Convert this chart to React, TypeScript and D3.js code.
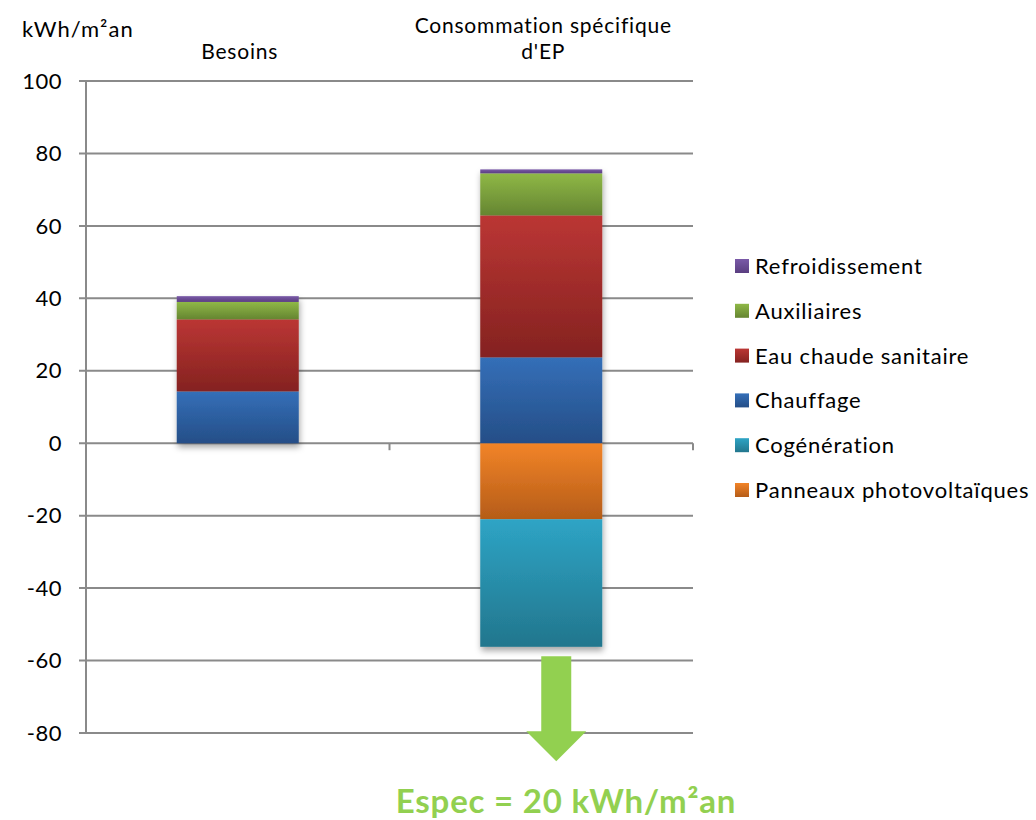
import * as d3 from 'd3';

const categories = ['Besoins', "Consommation spécifique d'EP"];
const categoryLines = [['Besoins'], ['Consommation spécifique', "d'EP"]];

// stack order: negatives first (nearest zero first), then positives bottom -> top
const seriesNames = [
  'Panneaux photovoltaïques',
  'Cogénération',
  'Chauffage',
  'Eau chaude sanitaire',
  'Auxiliaires',
  'Refroidissement',
];
const panneaux = [0, -21.0];
const cogeneration = [0, -35.2];
const chauffage = [14.3, 23.7];
const eauChaude = [19.9, 39.2];
const auxiliaires = [4.8, 11.6];
const refroidissement = [1.6, 1.1];

const legendOrder = [
  'Refroidissement',
  'Auxiliaires',
  'Eau chaude sanitaire',
  'Chauffage',
  'Cogénération',
  'Panneaux photovoltaïques',
];

const yTicks = [-80, -60, -40, -20, 0, 20, 40, 60, 80, 100];

// top/bottom gradient colours per series
const colors: Record<string, [string, string]> = {
  'Panneaux photovoltaïques': ['#f28428', '#b55c18'],
  'Cogénération': ['#2ea4c5', '#22768d'],
  'Chauffage': ['#346fb8', '#254e87'],
  'Eau chaude sanitaire': ['#bb3634', '#842220'],
  'Auxiliaires': ['#8fb847', '#658531'],
  'Refroidissement': ['#7a5aa8', '#5a3e80'],
};

// annotation arrow (values in kWh/m²an)
const arrowTop = -58.8;
const arrowHeadStart = -79.5;
const arrowTip = -87.8;
const especLabel = 'Espec = 20 kWh/m²an';

const FONT = 'Lato, "DejaVu Sans", sans-serif';
const GRID = '#8a8a8a';

export default function App() {
  const width = 1036;
  const height = 820;
  const left = 86;
  const right = 693;

  const table = categories.map((c, i) => ({
    category: c,
    'Panneaux photovoltaïques': panneaux[i],
    'Cogénération': cogeneration[i],
    'Chauffage': chauffage[i],
    'Eau chaude sanitaire': eauChaude[i],
    'Auxiliaires': auxiliaires[i],
    'Refroidissement': refroidissement[i],
  }));

  const stacked = d3
    .stack<any>()
    .keys(seriesNames)
    .offset(d3.stackOffsetDiverging)(table);

  const x = d3.scaleBand<string>().domain(categories).range([left, right]).padding(0);
  const y = d3.scaleLinear().domain([-80, 100]).range([733, 81]);
  const barW = x.bandwidth() * 0.402;

  const arrowX = (x(categories[1]) || 0) + x.bandwidth() / 2 + 15;

  return (
    <svg
      width={width}
      height={height}
      style={{ position: 'absolute', left: 0, top: 0, background: '#fff' }}
    >
      <defs>
        {seriesNames.map((s, i) => (
          <linearGradient key={s} id={`g${i}`} x1="0" y1="0" x2="0" y2="1">
            <stop offset="0%" stopColor={colors[s][0]} />
            <stop offset="100%" stopColor={colors[s][1]} />
          </linearGradient>
        ))}
        <filter id="shadow" x="-20%" y="-20%" width="140%" height="140%">
          <feDropShadow dx="1" dy="4" stdDeviation="3" floodColor="#000" floodOpacity="0.35" />
        </filter>
      </defs>

      {/* grid */}
      {yTicks.map((t) => (
        <g key={t}>
          <line x1={left - 7} x2={right} y1={y(t)} y2={y(t)} stroke={GRID} strokeWidth={2} />
          <text
            x={62}
            y={y(t)}
            dy="0.35em"
            textAnchor="end"
            fontFamily={FONT}
            fontSize={22}
            letterSpacing={0.5}
            fill="#000"
          >
            {t}
          </text>
        </g>
      ))}
      <line x1={left} x2={left} y1={y(100)} y2={y(-80)} stroke={GRID} strokeWidth={2} />
      {/* category ticks on zero line */}
      {[left, left + x.step(), right].map((tx, i) => (
        <line key={i} x1={tx} x2={tx} y1={y(0)} y2={y(0) + 7} stroke={GRID} strokeWidth={2} />
      ))}

      {/* bars */}
      {categories.map((c, ci) => (
        <g key={c} filter="url(#shadow)">
          {stacked.map((layer, si) => {
            const d = layer[ci];
            const y0 = y(Math.max(d[0], d[1]));
            const y1 = y(Math.min(d[0], d[1]));
            if (y1 - y0 < 0.01) return null;
            return (
              <rect
                key={layer.key}
                x={(x(c) || 0) + (x.bandwidth() - barW) / 2}
                y={y0}
                width={barW}
                height={y1 - y0}
                fill={`url(#g${si})`}
              />
            );
          })}
        </g>
      ))}

      {/* category labels on top */}
      {categories.map((c, ci) => {
        const lines = categoryLines[ci];
        const cx = (x(c) || 0) + x.bandwidth() / 2 + 2;
        return (
          <text
            key={c}
            x={cx}
            textAnchor="middle"
            fontFamily={FONT}
            fontSize={21}
            letterSpacing={0.8}
            fill="#000"
          >
            {lines.map((l, li) => (
              <tspan key={li} x={cx} y={59 - (lines.length - 1 - li) * 26}>
                {l}
              </tspan>
            ))}
          </text>
        );
      })}
      <text x={22} y={37} fontFamily={FONT} fontSize={22} letterSpacing={1} fill="#000">
        kWh/m²an
      </text>

      {/* legend */}
      {legendOrder.map((s, i) => {
        const cy = 266 + i * 44.8;
        const si = seriesNames.indexOf(s);
        return (
          <g key={s}>
            <rect x={735} y={cy - 7} width={14} height={14} fill={`url(#g${si})`} />
            <text
              x={755}
              y={cy}
              dy="0.36em"
              fontFamily={FONT}
              fontSize={22}
              letterSpacing={0.8}
              fill="#000"
            >
              {s}
            </text>
          </g>
        );
      })}

      {/* arrow */}
      <path
        d={[
          `M${arrowX - 15},${y(arrowTop)}`,
          `L${arrowX + 15},${y(arrowTop)}`,
          `L${arrowX + 15},${y(arrowHeadStart)}`,
          `L${arrowX + 30},${y(arrowHeadStart)}`,
          `L${arrowX},${y(arrowTip)}`,
          `L${arrowX - 30},${y(arrowHeadStart)}`,
          `L${arrowX - 15},${y(arrowHeadStart)}`,
          'Z',
        ].join(' ')}
        fill="#92d050"
      />
      <text
        x={566}
        y={813}
        textAnchor="middle"
        fontFamily={FONT}
        fontWeight="bold"
        fontSize={33}
        letterSpacing={0.8}
        fill="#92d050"
      >
        {especLabel}
      </text>
    </svg>
  );
}
